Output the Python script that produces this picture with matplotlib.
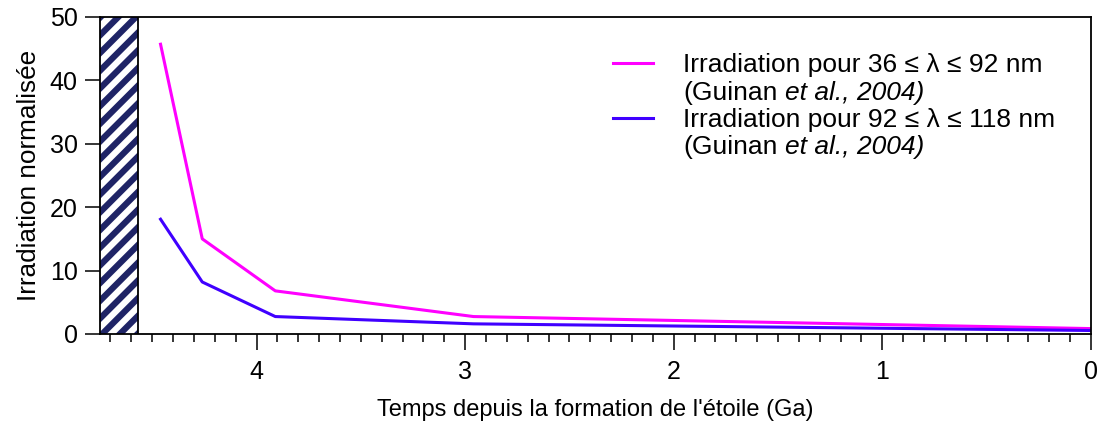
import numpy as np
import matplotlib
matplotlib.use("Agg")
import matplotlib.pyplot as plt
from matplotlib.lines import Line2D
from matplotlib.collections import LineCollection
from matplotlib.transforms import IdentityTransform, Bbox
from matplotlib.ticker import MultipleLocator

plt.rcParams['font.family'] = ['Liberation Sans', 'DejaVu Sans']

# temps depuis la formation (Ga) et irradiation normalisee
temps = [4.46, 4.26, 3.91, 2.96, 0.0]
irr_36_92 = [45.7, 15.0, 6.8, 2.75, 0.85]
irr_92_118 = [18.1, 8.2, 2.75, 1.6, 0.55]
hatch_zone = [4.75, 4.57]

lab1 = "Irradiation pour 36 \u2264 \u03bb \u2264 92 nm"
lab2 = "Irradiation pour 92 \u2264 \u03bb \u2264 118 nm"

fig = plt.figure(figsize=(10.97, 4.24), dpi=100)
ax = fig.add_axes([0.0912, 0.2123, 0.9033, 0.7477])

c1 = '#ff00ff'
c2 = '#4000ff'
ax.plot(temps, irr_36_92, color=c1, lw=2.2)
ax.plot(temps, irr_92_118, color=c2, lw=2.2)

ax.set_xlim(4.75, 0)
ax.set_ylim(0, 50)
ax.xaxis.set_major_locator(MultipleLocator(1))
ax.xaxis.set_minor_locator(MultipleLocator(0.1))
ax.yaxis.set_major_locator(MultipleLocator(10))

# zone hachuree (rayures a 45 degres)
ax.axvspan(hatch_zone[0], hatch_zone[1], facecolor='white', edgecolor='none', zorder=3)
fig.canvas.draw()
(x0, y0), (x1, y1) = ax.transData.transform([(hatch_zone[0], 0), (hatch_zone[1], 50)])
period = 17.7
w = x1 - x0
segs = []
for c in np.arange(y0 - w - period, y1 + period, period):
    segs.append([(x0 - 10, c - 10), (x1 + 10, c + w + 10)])
lc = LineCollection(segs, colors='#1f2466', linewidths=4.5, transform=IdentityTransform(), zorder=3.5)
lc.set_clip_box(Bbox([[x0, y0], [x1, y1]]))
ax.add_collection(lc, autolim=False)
lc.set_clip_path(None)
lc.set_clip_box(Bbox([[x0, y0], [x1, y1]]))
ax.axvspan(hatch_zone[0], hatch_zone[1], facecolor='none', edgecolor='black', lw=1.3, zorder=4)

ax.tick_params(axis='x', which='major', length=11.5, width=1.1, labelsize=18, pad=7, direction='out')
ax.tick_params(axis='x', which='minor', length=5.8, width=1.1, direction='out')
ax.tick_params(axis='y', which='major', length=11, width=1.1, labelsize=18, pad=5, direction='out')
for s in ax.spines.values():
    s.set_linewidth(1.3)

ax.set_xlabel("Temps depuis la formation de l'\u00e9toile (Ga)", fontsize=17, labelpad=11)
ax.set_ylabel("Irradiation normalis\u00e9e", fontsize=18.8, labelpad=6)

blank = Line2D([], [], color='none')
handles = [Line2D([], [], color=c1, lw=2.2), blank, Line2D([], [], color=c2, lw=2.2), blank]
labels = [lab1, "(Guinan", lab2, "(Guinan"]
leg = ax.legend(handles, labels, loc='upper left', bbox_to_anchor=(0.518, 0.885), frameon=False,
                fontsize=19, handlelength=1.5, handletextpad=1.15, labelspacing=0.12,
                borderaxespad=0, borderpad=0)
texts = leg.get_texts()
for t in (texts[1], texts[3]):
    ax.annotate("et al., 2004)", xy=(1, 0), xycoords=t, xytext=(5.3, 0), textcoords='offset points',
                ha='left', va='bottom', fontsize=19, style='italic', zorder=10)

fig.savefig("out.png", dpi=100)
